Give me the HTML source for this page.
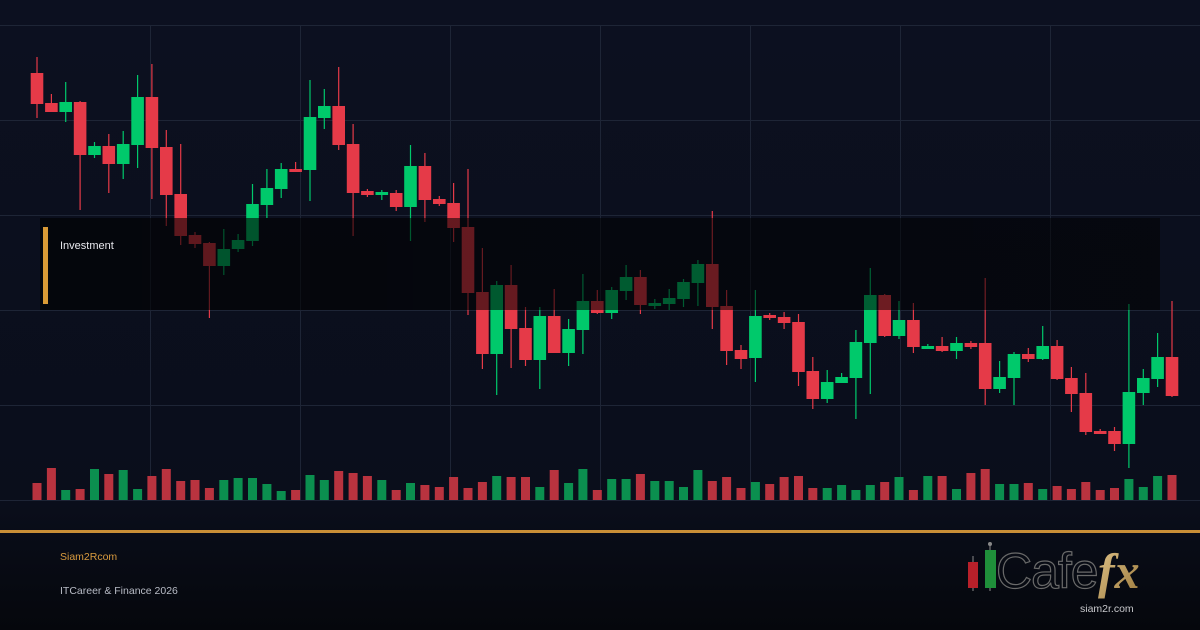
<!DOCTYPE html>
<html><head><meta charset="utf-8"><style>
html,body{margin:0;padding:0;width:1200px;height:630px;overflow:hidden;background:#0b0f1d;font-family:"Liberation Sans",sans-serif}
svg{display:block}
</style></head><body>
<svg id="s" width="1200" height="630" xmlns="http://www.w3.org/2000/svg">
<defs>
<linearGradient id="bg" x1="0" y1="0" x2="0" y2="1">
<stop offset="0" stop-color="#0c1020"/><stop offset="0.8" stop-color="#0a0e1b"/><stop offset="1" stop-color="#05070c"/>
</linearGradient>
<linearGradient id="ov" x1="0" y1="0" x2="1" y2="0">
<stop offset="0" stop-color="#000" stop-opacity="0.6"/><stop offset="1" stop-color="#000" stop-opacity="0.5"/>
</linearGradient>
<linearGradient id="gold" x1="0" y1="0" x2="1" y2="1">
<stop offset="0" stop-color="#e0c48a"/><stop offset="1" stop-color="#9c7a3c"/>
</linearGradient>
</defs>
<rect width="1200" height="630" fill="url(#bg)"/>
<g id="grid" stroke="#1e2536" stroke-width="1"></g>
<g id="vol"></g>
<g id="cdl"></g>
<rect x="40" y="218" width="1120" height="92" fill="url(#ov)"/>
<rect x="43" y="227" width="5" height="77" fill="#d99a36"/>
<text x="60" y="249" fill="#e8e8ee" font-size="11">Investment</text>
<rect x="0" y="530" width="1200" height="3" fill="#c98f37"/>
<text x="60" y="560" fill="#d89a3e" font-size="10.5">Siam2Rcom</text>
<text x="60" y="594" fill="#b8bcc6" font-size="10.5">ITCareer &amp; Finance 2026</text>
<g>
<line x1="973" y1="556" x2="973" y2="591" stroke="#8a8a8a" stroke-width="1"/>
<rect x="968" y="562" width="10" height="26" fill="#b8202a"/>
<line x1="990" y1="542" x2="990" y2="591" stroke="#8a8a8a" stroke-width="1"/>
<circle cx="990" cy="544" r="2" fill="#888"/>
<rect x="985" y="550" width="11" height="38" fill="#1f8f3a"/>
<text x="996" y="588" fill="none" stroke="#6a6a6a" stroke-width="1.2" font-size="50" font-family="Liberation Sans" font-weight="normal" letter-spacing="-1">Cafe</text>
<text x="1098" y="588" fill="url(#gold)" font-size="50" font-family="Liberation Serif" font-style="italic" font-weight="bold">fx</text>
<text x="1080" y="612" fill="#c8c8cc" font-size="10.5">siam2r.com</text>
</g>
</svg>
<script>
var NS="http://www.w3.org/2000/svg";
function el(p,t,a){var e=document.createElementNS(NS,t);for(var k in a)e.setAttribute(k,a[k]);document.getElementById(p).appendChild(e);}
[25,120,215,310,405,500].forEach(function(y){el("grid","line",{x1:0,x2:1200,y1:y+0.5,y2:y+0.5});});
[150,300,450,600,750,900,1050].forEach(function(x){el("grid","line",{x1:x+0.5,x2:x+0.5,y1:25,y2:500});});
// [bullish, bodyTop, bodyBot, wickTop, wickBot]
var C=[[0,73,104,57,118],[0,103,112,94,112],[1,102,112,82,122],[0,102,155,101,210],[1,146,155,142,158],[0,146,164,134,193],[1,144,164,131,179],[1,97,145,75,168],[0,97,148,64,199],[0,147,195,130,226],
[0,194,236,144,245],[0,235,244,232,248],[0,243,266,242,318],[1,249,266,229,275],[1,240,249,234,252],[1,204,241,184,246],[1,188,205,169,218],[1,169,189,163,198],[0,169,172,162,172],[1,117,170,80,201],
[1,106,118,89,129],[0,106,145,67,150],[0,144,193,124,236],[0,191,195,189,197],[1,192,195,190,200],[0,193,207,190,211],[1,166,207,145,241],[0,166,200,153,222],[0,199,204,196,206],[0,203,228,183,242],
[0,227,293,169,315],[0,292,354,248,369],[1,285,354,281,395],[0,285,329,265,368],[0,328,360,307,366],[1,316,360,307,389],[0,316,353,289,353],[1,329,353,319,366],[1,301,330,274,354],[0,301,313,290,314],
[1,290,313,287,319],[1,277,291,265,300],[0,277,305,270,314],[1,303,306,299,309],[1,298,304,289,310],[1,282,299,279,307],[1,264,283,260,306],[0,264,307,211,329],[0,306,351,290,365],[0,350,359,345,369],
[1,316,358,290,382],[0,315,318,313,320],[0,317,323,312,329],[0,322,372,314,386],[0,371,399,357,409],[1,382,399,370,403],[1,377,383,373,383],[1,342,378,330,419],[1,295,343,268,394],[0,295,336,294,337],
[1,320,336,301,339],[0,320,347,303,353],[1,346,349,344,349],[0,346,351,337,352],[1,343,351,337,359],[0,343,347,341,349],[0,343,389,278,405],[1,377,389,361,393],[1,354,378,352,405],[0,354,359,348,362],
[1,346,359,326,360],[0,346,379,340,380],[0,378,394,367,412],[0,393,432,373,435],[0,431,434,429,434],[0,431,444,427,451],[1,392,444,304,468],[1,378,393,369,405],[1,357,379,333,387],[0,357,396,301,397]];
var V=[483,468,490,489,469,474,470,489,476,469,481,480,488,480,478,478,484,491,490,475,480,471,473,476,480,490,483,485,487,477,488,482,476,477,477,487,470,483,469,490,479,479,474,481,481,487,470,481,477,488,482,484,477,476,488,488,485,490,485,482,477,490,476,476,489,473,469,484,484,483,489,486,489,482,490,488,479,487,476,475];
var sp=(1172-37)/79;
C.forEach(function(c,i){
 var x=37+i*sp, col=c[0]?"#00c96b":"#e53a48", vc=c[0]?"#0b8f4f":"#b9333f";
 el("vol","rect",{x:(x-4.5).toFixed(1),y:V[i],width:9,height:500-V[i],fill:vc});
 el("cdl","rect",{x:(x-0.6).toFixed(1),y:c[3],width:1.2,height:c[4]-c[3],fill:col});
 el("cdl","rect",{x:(x-6.3).toFixed(1),y:c[1],width:12.6,height:Math.max(2,c[2]-c[1]),fill:col});
});
</script>
</body></html>
